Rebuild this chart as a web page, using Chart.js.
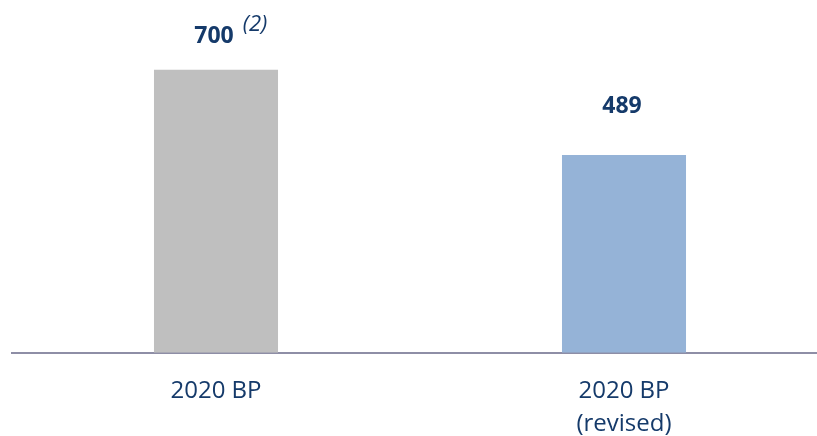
<!DOCTYPE html>
<html>
<head>
<meta charset="utf-8">
<script src="https://cdn.jsdelivr.net/npm/chart.js@4.4.0/dist/chart.umd.min.js"></script>
<style>
    html, body { margin: 0; padding: 0; background: #fff; overflow: hidden; }
    #wrap { position: relative; width: 830px; height: 455px; }
</style>
</head>
<body>
<div id="wrap"><canvas id="chart-bp"></canvas></div>
<script>
    const categories = [['2020 BP'], ['2020 BP', '(revised)']];
    const values = [700, 489];
    const valueNotes = ['(2)', ''];
    const barColors = ['#bfbfbf', '#95b3d7'];

    const NAVY = '#153a6a';
    // gap between bar top and label baseline (the second label sits higher)
    const labelGap = [27, 42];

    // value labels above bars, with the optional italic footnote
    const valueLabels = {
        id: 'valueLabels',
        afterDatasetsDraw(chart) {
            const ctx = chart.ctx;
            const meta = chart.getDatasetMeta(0);
            ctx.save();
            ctx.fillStyle = NAVY;
            ctx.textBaseline = 'alphabetic';
            meta.data.forEach((bar, i) => {
                const text = String(values[i]);
                ctx.font = 'bold 23px "Open Sans"';
                const w = ctx.measureText(text).width;
                const y = bar.y - labelGap[i];
                ctx.textAlign = 'center';
                ctx.fillText(text, bar.x - 2, y);
                if (valueNotes[i]) {
                    ctx.font = 'italic 22px "Open Sans"';
                    ctx.textAlign = 'left';
                    ctx.fillText(valueNotes[i], bar.x - 2 + w / 2 + 9, y - 12);
                }
            });
            ctx.restore();
        }
    };

    new Chart(document.getElementById('chart-bp'), {
        type: 'bar',
        data: {
            labels: categories,
            datasets: [
                {
                    data: values,
                    backgroundColor: barColors,
                    categoryPercentage: 1,
                    barPercentage: 0.304
                }
            ]
        },
        options: {
            responsive: true,
            maintainAspectRatio: false,
            animation: false,
            layout: {
                padding: { left: 12, right: 2, top: 10, bottom: 0 }
            },
            scales: {
                x: {
                    grid: { display: false },
                    border: { display: true, color: '#8e8ea6', width: 2 },
                    ticks: {
                        color: NAVY,
                        padding: 14,
                        font: { family: 'Open Sans', size: 24, lineHeight: 1.38 }
                    }
                },
                y: {
                    display: false,
                    min: 0,
                    max: 848
                }
            },
            plugins: {
                legend: { display: false },
                tooltip: { enabled: false }
            }
        },
        plugins: [valueLabels]
    });
</script>
</body>
</html>
